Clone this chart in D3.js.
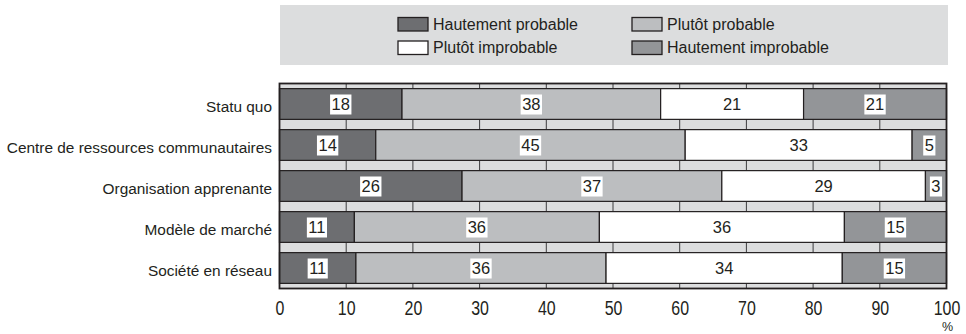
<!DOCTYPE html>
<html>
<head>
<meta charset="utf-8">
<script src="https://cdn.jsdelivr.net/npm/d3@7"></script>
<style>
  html, body { margin: 0; padding: 0; background: #ffffff; }
  svg { display: block; }
  text { font-family: "Liberation Sans", Arial, Helvetica, sans-serif; fill: #231f20; }
</style>
</head>
<body>
<svg id="chart" width="966" height="334"></svg>
<script>
// Scenario names (rows, top to bottom)
const categories = [
  "Statu quo",
  "Centre de ressources communautaires",
  "Organisation apprenante",
  "Modèle de marché",
  "Société en réseau"
];

// Responses per scenario (%)
const hautementProbable   = [18, 14, 26, 11, 11];
const plutotProbable      = [38, 45, 37, 36, 36];
const plutotImprobable    = [21, 33, 29, 36, 34];
const hautementImprobable = [21, 5, 3, 15, 15];

const seriesNames = ["Hautement probable", "Plutôt probable", "Plutôt improbable", "Hautement improbable"];
const seriesColors = ["#6d6e71", "#bcbec0", "#ffffff", "#939598"];

const tickValues = [0, 10, 20, 30, 40, 50, 60, 70, 80, 90, 100];
const axisUnit = "%";

// Table for the stack layout
const rows = categories.map((c, i) => ({
  category: c,
  "Hautement probable": hautementProbable[i],
  "Plutôt probable": plutotProbable[i],
  "Plutôt improbable": plutotImprobable[i],
  "Hautement improbable": hautementImprobable[i]
}));

const svg = d3.select("#chart");
const ink = "#231f20";
const panel = "#dcddde";

const plot = { left: 279.5, right: 946.5, top: 83.5, bottom: 288.5 };

const x = d3.scaleLinear().domain([0, 100]).range([plot.left, plot.right]);
const y = d3.scaleBand().domain(categories).range([plot.top, plot.bottom])
  .paddingInner(0.25).paddingOuter(0.125);
const color = d3.scaleOrdinal().domain(seriesNames).range(seriesColors);

// Each row is shown as a share of its own total
const stacked = d3.stack().keys(seriesNames).offset(d3.stackOffsetExpand)(rows);

// ---- Legend ----
const legendG = svg.append("g");
legendG.append("rect")
  .attr("x", 280).attr("y", 5).attr("width", 668).attr("height", 60)
  .attr("fill", panel);

const legendPos = [
  { x: 398, y: 17.5 },
  { x: 632, y: 17.5 },
  { x: 398, y: 41 },
  { x: 632, y: 41 }
];
const legendItems = legendG.selectAll("g.item").data(seriesNames).join("g")
  .attr("class", "item")
  .attr("transform", (d, i) => `translate(${legendPos[i].x},${legendPos[i].y})`);
legendItems.append("rect")
  .attr("width", 30).attr("height", 13.5)
  .attr("fill", d => color(d))
  .attr("stroke", ink).attr("stroke-width", 1.3);
legendItems.append("text")
  .attr("x", 35).attr("y", 12)
  .style("font-size", "16px")
  .text(d => d);

// ---- Plot background with grid ----
svg.append("rect")
  .attr("x", plot.left).attr("y", plot.top)
  .attr("width", plot.right - plot.left).attr("height", plot.bottom - plot.top)
  .attr("fill", panel);

svg.append("g").selectAll("line")
  .data(tickValues.slice(1, -1)).join("line")
  .attr("x1", d => x(d)).attr("x2", d => x(d))
  .attr("y1", plot.top).attr("y2", plot.bottom)
  .attr("stroke", "#3c3c3e").attr("stroke-width", 1);

// ---- Bars ----
const layers = svg.append("g").selectAll("g.layer").data(stacked).join("g")
  .attr("class", "layer")
  .attr("fill", d => color(d.key));

layers.selectAll("rect").data(d => d.map(s => ({ key: d.key, s }))).join("rect")
  .attr("x", d => x(d.s[0] * 100))
  .attr("y", d => y(d.s.data.category))
  .attr("width", d => x(d.s[1] * 100) - x(d.s[0] * 100))
  .attr("height", y.bandwidth())
  .attr("stroke", ink).attr("stroke-width", 1.2);

// ---- Value labels ----
const labels = svg.append("g");
stacked.forEach(layer => {
  layer.forEach(s => {
    const value = s.data[layer.key];
    const cx = (x(s[0] * 100) + x(s[1] * 100)) / 2;
    const cy = y(s.data.category) + y.bandwidth() / 2;
    const g = labels.append("g");
    const box = g.append("rect").attr("fill", "#ffffff");
    const t = g.append("text")
      .attr("x", cx).attr("y", cy + 6.3)
      .attr("text-anchor", "middle")
      .style("font-size", "16.5px")
      .text(value);
    const bb = t.node().getBBox();
    box.attr("x", bb.x - 1.5).attr("y", cy - 9.5)
      .attr("width", bb.width + 3).attr("height", 20);
  });
});

// ---- Frame ----
svg.append("rect")
  .attr("x", plot.left).attr("y", plot.top)
  .attr("width", plot.right - plot.left).attr("height", plot.bottom - plot.top)
  .attr("fill", "none").attr("stroke", ink).attr("stroke-width", 1.8);

// ---- Category labels ----
svg.append("g").selectAll("text").data(categories).join("text")
  .attr("x", 272)
  .attr("y", d => y(d) + y.bandwidth() / 2 + 8)
  .attr("text-anchor", "end")
  .style("font-size", "15.4px")
  .text(d => d);

// ---- X axis ----
const xAxis = d3.axisBottom(x).tickValues(tickValues).tickSize(0).tickPadding(0)
  .tickFormat(d3.format("d"));
const axisG = svg.append("g").attr("transform", `translate(0,${plot.bottom})`).call(xAxis);
axisG.select(".domain").remove();
axisG.selectAll(".tick text")
  .attr("y", 0).attr("dy", null)
  .style("font-size", "21px")
  .style("font-family", "\"Liberation Sans\", Arial, sans-serif")
  .attr("fill", ink)
  .attr("transform", "translate(0,26.5) scale(0.76,1)");

svg.append("text")
  .attr("x", x(100) + 1).attr("y", 331)
  .attr("text-anchor", "middle")
  .style("font-size", "12.5px")
  .text(axisUnit);
</script>
</body>
</html>
